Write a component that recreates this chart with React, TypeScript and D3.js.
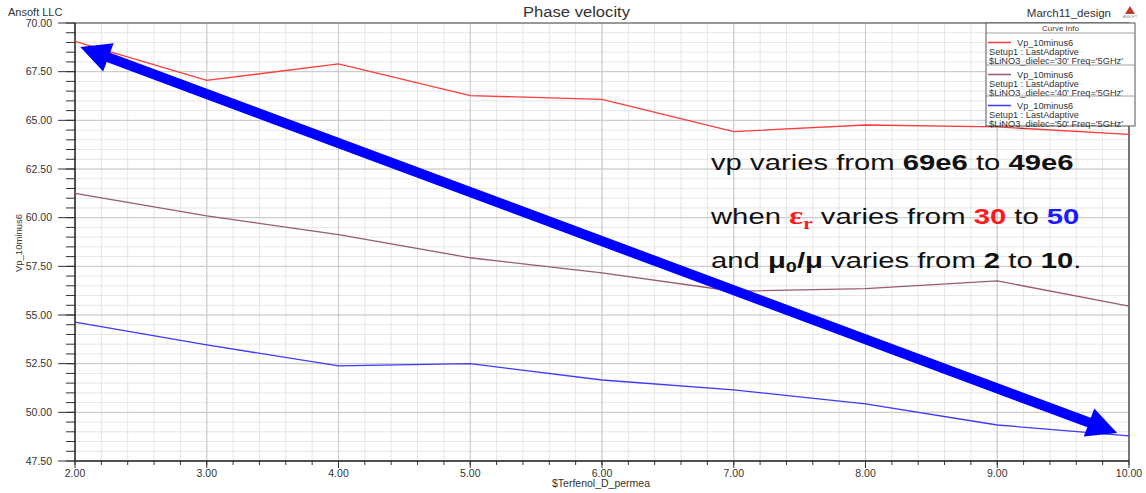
import React from "react";
import * as d3 from "d3";

const permea = [2, 3, 4, 5, 6, 7, 8, 9, 10];
const vpDielec30 = [69.05, 67.05, 67.9, 66.27, 66.08, 64.42, 64.76, 64.66, 64.28];
const vpDielec40 = [61.25, 60.09, 59.13, 57.94, 57.16, 56.22, 56.35, 56.75, 55.46];
const vpDielec50 = [54.63, 53.46, 52.39, 52.5, 51.66, 51.15, 50.43, 49.35, 48.79];

const xTicks = [2, 3, 4, 5, 6, 7, 8, 9, 10];
const yTicks = [47.5, 50, 52.5, 55, 57.5, 60, 62.5, 65, 67.5, 70];
const seriesNames = ["30", "40", "50"];
const seriesColors = ["#ff3b3b", "#9b5a72", "#3b3bff"];

// arrow annotation endpoints (data units)
const arrowStart = [2.04, 68.77];
const arrowEnd = [9.91, 48.94];

const W = 1146;
const H = 493;
const FONT = "Arial, 'Liberation Sans', sans-serif";

export default function App() {
  const x = d3.scaleLinear().domain([2, 10]).range([75, 1129]);
  const y = d3.scaleLinear().domain([47.5, 70]).range([461, 23]);
  const line = d3
    .line<number>()
    .x((_, i) => x(permea[i]))
    .y((d) => y(d));

  const series = [vpDielec30, vpDielec40, vpDielec50];

  const xMinor = d3.range(2, 10.001, 0.2);
  const yMinor = d3.range(47.5, 70.001, 0.5);

  // arrow polygon
  const ax0 = x(arrowStart[0]);
  const ay0 = y(arrowStart[1]);
  const ax1 = x(arrowEnd[0]);
  const ay1 = y(arrowEnd[1]);
  const dx = ax1 - ax0;
  const dy = ay1 - ay0;
  const len = Math.hypot(dx, dy);
  const ux = dx / len;
  const uy = dy / len;
  const px = -uy;
  const py = ux;
  const hl = 30;
  const hw = 15;
  const sw = 5;
  const P = (t: number, s: number) => [ax0 + ux * t + px * s, ay0 + uy * t + py * s];
  const arrowPts = [
    P(0, 0),
    P(hl, hw),
    P(hl, sw),
    P(len - hl, sw),
    P(len - hl, hw),
    P(len, 0),
    P(len - hl, -hw),
    P(len - hl, -sw),
    P(hl, -sw),
    P(hl, -hw),
  ]
    .map((p) => p.join(","))
    .join(" ");

  const legX = 986;
  const legW = 149;
  const rowTops = [33, 65, 96];

  return (
    <svg
      width={W}
      height={H}
      style={{ position: "fixed", left: 0, top: 0, background: "#fff" }}
      fontFamily={FONT}
    >
      <rect x={0} y={0} width={W} height={H} fill="#fff" />
      {/* minor grid */}
      {xMinor.map((v, i) => (
        <line key={"xm" + i} x1={x(v)} x2={x(v)} y1={23} y2={461} stroke="#e6e6e6" strokeWidth={1} />
      ))}
      {yMinor.map((v, i) => (
        <line key={"ym" + i} x1={75} x2={1129} y1={y(v)} y2={y(v)} stroke="#e6e6e6" strokeWidth={1} />
      ))}
      {/* major grid */}
      {xTicks.map((v) => (
        <line key={"xg" + v} x1={x(v)} x2={x(v)} y1={23} y2={461} stroke="#c8c8c8" strokeWidth={1} />
      ))}
      {yTicks.map((v) => (
        <line key={"yg" + v} x1={75} x2={1129} y1={y(v)} y2={y(v)} stroke="#c8c8c8" strokeWidth={1} />
      ))}

      {/* axes ticks */}
      {yMinor.map((v, i) => (
        <line key={"ymt" + i} x1={66} x2={75} y1={y(v)} y2={y(v)} stroke="#333" strokeWidth={1} />
      ))}
      {yTicks.map((v) => (
        <g key={"yt" + v}>
          <line x1={58} x2={75} y1={y(v)} y2={y(v)} stroke="#333" strokeWidth={1} />
          <text x={52} y={y(v) + 3.5} fontSize={10.5} textAnchor="end" fill="#333">
            {v.toFixed(2)}
          </text>
        </g>
      ))}
      {xMinor.map((v, i) => (
        <line key={"xmt" + i} x1={x(v)} x2={x(v)} y1={461} y2={465} stroke="#333" strokeWidth={1} />
      ))}
      {xTicks.map((v) => (
        <g key={"xt" + v}>
          <line x1={x(v)} x2={x(v)} y1={461} y2={468} stroke="#333" strokeWidth={1} />
          <text x={x(v)} y={477} fontSize={10.5} textAnchor="middle" fill="#333">
            {v.toFixed(2)}
          </text>
        </g>
      ))}

      {/* frame */}
      <line x1={75} x2={1129} y1={23} y2={23} stroke="#555" strokeWidth={1.2} />
      <line x1={1129} x2={1129} y1={23} y2={461} stroke="#333" strokeWidth={1.2} />
      <line x1={75} x2={1129} y1={461} y2={461} stroke="#222" strokeWidth={1.5} />
      <line x1={75} x2={75} y1={23} y2={461} stroke="#222" strokeWidth={1.5} />

      {/* series */}
      {series.map((s, i) => (
        <path key={"s" + i} d={line(s) || ""} fill="none" stroke={seriesColors[i]} strokeWidth={1.3} />
      ))}

      {/* header texts */}
      <text x={8} y={16} fontSize={11} fill="#333">Ansoft LLC</text>
      <text x={523} y={17} fontSize={14} textLength={107} lengthAdjust="spacingAndGlyphs" fill="#333">
        Phase velocity
      </text>
      <text x={1111} y={17} fontSize={11.5} textAnchor="end" fill="#333">March11_design</text>
      <polygon points="1130,6 1125,14 1135,14" fill="#c0392b" />
      <text x={1130} y={18} fontSize={3.5} textAnchor="middle" fill="#888">ANSOFT</text>

      {/* axis labels */}
      <text x={601} y={487} fontSize={10.5} textAnchor="middle" fill="#333">$Terfenol_D_permea</text>
      <text
        transform={`translate(22,243) rotate(-90)`}
        fontSize={9.5}
        textAnchor="middle"
        fill="#333"
      >
        Vp_10minus6
      </text>

      {/* legend */}
      <rect x={legX} y={23} width={legW} height={103} fill="#fff" stroke="#555" strokeWidth={1} />
      <line x1={legX} x2={legX + legW} y1={33} y2={33} stroke="#888" strokeWidth={0.8} />
      <text x={legX + legW / 2} y={31} fontSize={8} textAnchor="middle" fill="#444">Curve Info</text>
      {seriesNames.map((n, i) => {
        const t = rowTops[i];
        return (
          <g key={"lg" + i}>
            {i > 0 && <line x1={legX} x2={legX + legW} y1={t} y2={t} stroke="#888" strokeWidth={0.8} />}
            <line x1={legX + 2} x2={legX + 25} y1={t + 9.5} y2={t + 9.5} stroke={seriesColors[i]} strokeWidth={1.5} />
            <text x={legX + 31} y={t + 13} fontSize={9.2} fill="#333">Vp_10minus6</text>
            <text x={legX + 3} y={t + 22} fontSize={9.2} fill="#333">Setup1 : LastAdaptive</text>
            <text x={legX + 3} y={t + 31} fontSize={9.2} textLength={134} lengthAdjust="spacingAndGlyphs" fill="#333">
              {`$LiNO3_dielec='${n}' Freq='5GHz'`}
            </text>
          </g>
        );
      })}

      {/* arrow */}
      <polygon points={arrowPts} fill="#0000ff" />

      {/* annotation */}
      <g fontSize={22} fill="#111" transform="translate(711,0) scale(1.33,1)">
        <text x={0} y={170}>
          vp varies from <tspan fontWeight="bold">69e6</tspan> to <tspan fontWeight="bold">49e6</tspan>
        </text>
        <text x={0} y={224}>
          when{" "}
          <tspan fill="#ff1a1a" fontWeight="bold" fontFamily="'Liberation Serif', serif" fontSize={25}>ε</tspan>
          <tspan fill="#ff1a1a" fontWeight="bold" fontFamily="'Liberation Serif', serif" fontSize={16} dy={5}>r</tspan>
          <tspan dy={-5}> varies from </tspan>
          <tspan fill="#ff1a1a" fontWeight="bold">30</tspan>
          <tspan> to </tspan>
          <tspan fill="#1a1aff" fontWeight="bold">50</tspan>
        </text>
        <text x={0} y={268}>
          and <tspan fontWeight="bold">μ</tspan>
          <tspan fontWeight="bold" fontSize={15} dy={4}>0</tspan>
          <tspan fontWeight="bold" dy={-4}>/μ</tspan>
          <tspan> varies from </tspan>
          <tspan fontWeight="bold">2</tspan>
          <tspan> to </tspan>
          <tspan fontWeight="bold">10</tspan>.
        </text>
      </g>
    </svg>
  );
}
